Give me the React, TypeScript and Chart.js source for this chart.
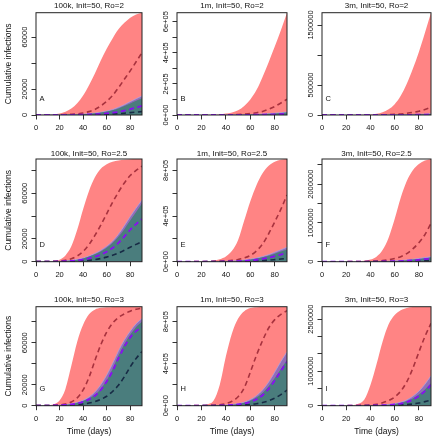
import React, { useEffect, useRef } from 'react';
import { Chart, registerables } from 'chart.js';

Chart.register(...registerables);

// ---------------- data ----------------
const DAYS = [0, 5, 10, 15, 20, 25, 30, 35, 40, 45, 50, 55, 60, 65, 70, 75, 80, 85, 90];
const X_TICKS = [0, 20, 40, 60, 80];

const TITLES = [
  '100k, Init=50, Ro=2', '1m, Init=50, Ro=2', '3m, Init=50, Ro=2',
  '100k, Init=50, Ro=2.5', '1m, Init=50, Ro=2.5', '3m, Init=50, Ro=2.5',
  '100k, Init=50, Ro=3', '1m, Init=50, Ro=3', '3m, Init=50, Ro=3',
];
const LETTERS = ['A', 'B', 'C', 'D', 'E', 'F', 'G', 'H', 'I'];

// Panel A
const A_RED_HI = [50, 100, 200, 500, 1200, 2500, 5000, 9000, 15000, 23000, 32000, 42000, 51000, 59000, 66000, 71000, 75000, 77500, 78800];
const A_RED_MED = [50, 60, 80, 120, 200, 320, 550, 900, 1500, 2600, 4300, 7000, 10500, 15000, 21000, 27500, 34000, 41000, 48000];
const A_BLUE_HI = [50, 60, 80, 110, 160, 230, 330, 480, 700, 1000, 1450, 2100, 3000, 4200, 5900, 7900, 10300, 12500, 14700];
const A_TEAL_HI = [50, 60, 75, 100, 140, 200, 290, 420, 610, 880, 1270, 1830, 2600, 3700, 5100, 6900, 8900, 11000, 12900];
const A_PURPLE_MED = [50, 55, 60, 70, 85, 110, 150, 210, 300, 430, 620, 880, 1250, 1750, 2400, 3300, 4400, 5700, 7000];
const A_NAVY_MED = [50, 52, 55, 60, 68, 80, 100, 130, 170, 230, 310, 420, 570, 770, 1030, 1370, 1800, 2200, 2600];

// Panel B
const B_RED_HI = [50, 80, 150, 300, 600, 1200, 2200, 4500, 9000, 16000, 30000, 58000, 100000, 160000, 245000, 340000, 440000, 545000, 658000];
const B_RED_MED = [50, 60, 80, 110, 160, 240, 380, 600, 1000, 1700, 3000, 5500, 9000, 15000, 23000, 37000, 55000, 77000, 101000];
const B_BLUE_HI = [50, 60, 80, 110, 160, 230, 330, 480, 700, 1000, 1450, 2150, 3100, 4400, 6300, 8800, 11800, 15000, 18500];
const B_TEAL_HI = [50, 58, 72, 98, 135, 195, 280, 405, 590, 850, 1230, 1800, 2600, 3700, 5300, 7400, 9900, 12700, 15700];
const B_PURPLE_MED = [50, 55, 60, 70, 85, 110, 150, 210, 300, 430, 620, 890, 1270, 1800, 2500, 3400, 4600, 6000, 7600];
const B_NAVY_MED = [50, 52, 55, 60, 68, 80, 100, 130, 170, 230, 310, 420, 570, 780, 1050, 1400, 1850, 2300, 2800];

// Panel C
const C_RED_HI = [50, 80, 150, 300, 600, 1200, 2300, 4500, 9000, 20000, 45000, 95000, 180000, 320000, 520000, 770000, 1050000, 1370000, 1705000];
const C_RED_MED = [50, 60, 80, 110, 160, 240, 380, 600, 1000, 1800, 3200, 5800, 10000, 17000, 28000, 43000, 63000, 92000, 128000];
const C_BLUE_HI = [50, 60, 80, 110, 160, 230, 330, 480, 700, 1000, 1460, 2170, 3120, 4450, 6400, 8900, 12000, 15300, 19000];
const C_TEAL_HI = [50, 58, 72, 98, 135, 195, 280, 405, 590, 850, 1240, 1810, 2620, 3750, 5350, 7500, 10000, 12900, 16000];
const C_PURPLE_MED = [50, 55, 60, 70, 85, 110, 150, 210, 300, 430, 620, 890, 1280, 1810, 2520, 3430, 4650, 6100, 7700];
const C_NAVY_MED = [50, 52, 55, 60, 68, 80, 100, 130, 170, 230, 310, 420, 575, 785, 1060, 1410, 1870, 2330, 2850];

// Panel D
const D_RED_HI = [50, 100, 250, 700, 1800, 5500, 13500, 28000, 46000, 62000, 74000, 81500, 85500, 87500, 88700, 89300, 89700, 89900, 90000];
const D_RED_MED = [50, 80, 150, 300, 650, 1300, 2600, 5000, 9000, 15000, 23000, 32000, 42000, 52000, 61000, 69000, 75500, 80000, 83800];
const D_BLUE_HI = [50, 70, 120, 220, 400, 700, 1200, 2000, 3200, 5000, 7200, 10000, 13500, 18000, 24000, 31500, 39500, 47000, 54000];
const D_TEAL_HI = [50, 65, 110, 200, 360, 630, 1080, 1800, 2900, 4500, 6500, 9000, 12200, 16300, 21800, 28500, 36000, 43500, 51000];
const D_PURPLE_MED = [50, 60, 90, 150, 260, 440, 740, 1200, 1900, 2900, 4300, 6200, 8700, 12000, 16500, 22000, 28000, 33000, 37400];
const D_NAVY_MED = [50, 55, 70, 100, 150, 230, 360, 560, 850, 1250, 1900, 2800, 4000, 5600, 7600, 10000, 12700, 15200, 17500];

// Panel E
const E_RED_HI = [50, 100, 250, 600, 1500, 3800, 9500, 22000, 45000, 95000, 190000, 360000, 530000, 670000, 775000, 840000, 875000, 893000, 900000];
const E_RED_MED = [50, 80, 150, 300, 650, 1300, 2600, 4500, 7500, 12000, 20000, 33000, 55000, 95000, 155000, 245000, 350000, 460000, 585000];
const E_BLUE_HI = [50, 70, 120, 220, 400, 700, 1250, 2200, 3700, 6000, 9500, 14500, 22000, 32000, 45000, 62000, 82000, 104000, 126000];
const E_TEAL_HI = [50, 65, 105, 190, 340, 600, 1050, 1850, 3100, 5000, 8000, 12300, 18500, 27000, 38500, 53000, 70000, 89000, 108000];
const E_PURPLE_MED = [50, 60, 90, 150, 260, 440, 750, 1250, 2000, 3200, 5000, 7600, 11500, 17000, 25000, 35000, 48000, 63000, 79000];
const E_NAVY_MED = [50, 55, 70, 100, 150, 230, 360, 560, 870, 1300, 2000, 3000, 4400, 6400, 9200, 13000, 18000, 23500, 29000];

// Panel F
const F_RED_HI = [50, 100, 250, 600, 1500, 3800, 9500, 24000, 55000, 130000, 300000, 620000, 1100000, 1650000, 2080000, 2360000, 2520000, 2610000, 2650000];
const F_RED_MED = [50, 80, 150, 300, 650, 1300, 2600, 5000, 9000, 16000, 28000, 48000, 80000, 130000, 210000, 330000, 490000, 700000, 990000];
const F_BLUE_HI = [50, 70, 120, 220, 400, 700, 1250, 2200, 3700, 6000, 9600, 14700, 22300, 32500, 46000, 63500, 84000, 107000, 130000];
const F_TEAL_HI = [50, 65, 105, 190, 340, 600, 1050, 1850, 3100, 5000, 8100, 12400, 18700, 27500, 39000, 54000, 71500, 91000, 111000];
const F_PURPLE_MED = [50, 60, 90, 150, 260, 440, 750, 1250, 2000, 3200, 5000, 7700, 11600, 17300, 25500, 36000, 49000, 64500, 81000];
const F_NAVY_MED = [50, 55, 70, 100, 150, 230, 360, 560, 870, 1300, 2000, 3000, 4450, 6500, 9300, 13200, 18300, 24000, 29500];

// Panel G
const G_RED_HI = [50, 120, 400, 1300, 5000, 16000, 38000, 61000, 77000, 87000, 91500, 93200, 93800, 94100, 94200, 94300, 94300, 94300, 94300];
const G_RED_MED = [50, 80, 160, 350, 750, 1600, 3500, 7500, 15000, 27000, 43000, 58000, 70000, 78500, 84000, 87500, 90000, 91800, 93000];
const G_BLUE_HI = [50, 80, 150, 300, 550, 1000, 1800, 3100, 5200, 8300, 13000, 20000, 29000, 40000, 52000, 62500, 71000, 78000, 83000];
const G_TEAL_HI = [50, 75, 140, 270, 490, 880, 1580, 2700, 4500, 7000, 10500, 16000, 24000, 35000, 47500, 58500, 67500, 75000, 80000];
const G_PURPLE_MED = [50, 70, 120, 220, 400, 700, 1250, 2200, 3700, 6000, 9500, 15000, 23000, 33000, 45000, 56000, 65000, 71000, 75000];
const G_NAVY_MED = [50, 60, 90, 140, 230, 380, 620, 1000, 1600, 2500, 3900, 6000, 9000, 13500, 19500, 27500, 37000, 45000, 51500];

// Panel H
const H_RED_HI = [50, 120, 400, 1300, 4500, 15000, 50000, 200000, 470000, 690000, 830000, 900000, 930000, 938000, 941000, 942500, 943000, 943000, 943000];
const H_RED_MED = [50, 80, 160, 350, 800, 1800, 4000, 9000, 20000, 42000, 85000, 170000, 320000, 480000, 620000, 740000, 820000, 870000, 905000];
const H_BLUE_HI = [50, 80, 150, 300, 560, 1000, 1900, 3500, 6500, 11500, 20000, 34000, 58000, 95000, 150000, 225000, 320000, 420000, 514000];
const H_TEAL_HI = [50, 75, 140, 270, 500, 900, 1700, 3100, 5700, 10000, 17000, 28500, 48000, 78000, 122000, 185000, 265000, 350000, 435000];
const H_PURPLE_MED = [50, 70, 120, 220, 400, 720, 1300, 2300, 4100, 7200, 12500, 21000, 36000, 60000, 100000, 160000, 240000, 330000, 419000];
const H_NAVY_MED = [50, 60, 90, 140, 230, 380, 620, 1000, 1700, 2800, 4600, 7500, 12000, 19000, 30000, 47000, 72000, 105000, 149000];

// Panel I
const I_RED_HI = [50, 120, 400, 1300, 4500, 16000, 55000, 180000, 600000, 1200000, 1850000, 2350000, 2620000, 2760000, 2825000, 2850000, 2860000, 2860000, 2860000];
const I_RED_MED = [50, 80, 160, 350, 800, 1800, 4000, 9000, 20000, 42000, 85000, 150000, 250000, 420000, 690000, 1080000, 1550000, 2000000, 2380000];
const I_BLUE_HI = [50, 80, 150, 300, 560, 1000, 1900, 3500, 6500, 11500, 20000, 35000, 60000, 100000, 165000, 270000, 420000, 620000, 867000];
const I_TEAL_HI = [50, 75, 140, 270, 500, 900, 1700, 3100, 5700, 10000, 17000, 29000, 49000, 81000, 132000, 210000, 320000, 470000, 645000];
const I_PURPLE_MED = [50, 70, 120, 220, 400, 720, 1300, 2300, 4100, 7200, 12500, 21000, 36000, 62000, 105000, 175000, 280000, 420000, 598000];
const I_NAVY_MED = [50, 60, 90, 140, 230, 380, 620, 1000, 1700, 2800, 4600, 7500, 12000, 19500, 31000, 50000, 78000, 118000, 164000];

// y-axis ticks and their printed labels ('' = tick mark without label)
const A_Y_TICKS = [0, 20000, 40000, 60000];
const A_Y_LABELS = ['0', '20000', '', '60000'];
const B_Y_TICKS = [0, 100000, 200000, 300000, 400000, 500000, 600000];
const B_Y_LABELS = ['0e+00', '', '2e+05', '', '4e+05', '', '6e+05'];
const C_Y_TICKS = [0, 500000, 1000000, 1500000];
const C_Y_LABELS = ['0', '500000', '', '1500000'];
const D_Y_TICKS = [0, 20000, 40000, 60000, 80000];
const D_Y_LABELS = ['0', '20000', '', '60000', ''];
const E_Y_TICKS = [0, 200000, 400000, 600000, 800000];
const E_Y_LABELS = ['0e+00', '', '4e+05', '', '8e+05'];
const F_Y_TICKS = [0, 500000, 1000000, 1500000, 2000000, 2500000];
const F_Y_LABELS = ['0', '', '1000000', '', '2000000', ''];
const G_Y_TICKS = [0, 20000, 40000, 60000, 80000];
const G_Y_LABELS = ['0', '20000', '', '60000', ''];
const H_Y_TICKS = [0, 200000, 400000, 600000, 800000];
const H_Y_LABELS = ['0e+00', '', '4e+05', '', '8e+05'];
const I_Y_TICKS = [0, 500000, 1000000, 1500000, 2000000, 2500000];
const I_Y_LABELS = ['0', '', '1000000', '', '', '2500000'];

const RED_HI = [A_RED_HI, B_RED_HI, C_RED_HI, D_RED_HI, E_RED_HI, F_RED_HI, G_RED_HI, H_RED_HI, I_RED_HI];
const RED_MED = [A_RED_MED, B_RED_MED, C_RED_MED, D_RED_MED, E_RED_MED, F_RED_MED, G_RED_MED, H_RED_MED, I_RED_MED];
const BLUE_HI = [A_BLUE_HI, B_BLUE_HI, C_BLUE_HI, D_BLUE_HI, E_BLUE_HI, F_BLUE_HI, G_BLUE_HI, H_BLUE_HI, I_BLUE_HI];
const TEAL_HI = [A_TEAL_HI, B_TEAL_HI, C_TEAL_HI, D_TEAL_HI, E_TEAL_HI, F_TEAL_HI, G_TEAL_HI, H_TEAL_HI, I_TEAL_HI];
const PURPLE_MED = [A_PURPLE_MED, B_PURPLE_MED, C_PURPLE_MED, D_PURPLE_MED, E_PURPLE_MED, F_PURPLE_MED, G_PURPLE_MED, H_PURPLE_MED, I_PURPLE_MED];
const NAVY_MED = [A_NAVY_MED, B_NAVY_MED, C_NAVY_MED, D_NAVY_MED, E_NAVY_MED, F_NAVY_MED, G_NAVY_MED, H_NAVY_MED, I_NAVY_MED];
const Y_TICKS = [A_Y_TICKS, B_Y_TICKS, C_Y_TICKS, D_Y_TICKS, E_Y_TICKS, F_Y_TICKS, G_Y_TICKS, H_Y_TICKS, I_Y_TICKS];
const Y_LABELS = [A_Y_LABELS, B_Y_LABELS, C_Y_LABELS, D_Y_LABELS, E_Y_LABELS, F_Y_LABELS, G_Y_LABELS, H_Y_LABELS, I_Y_LABELS];

// ---------------- layout / style ----------------
const FAMILY = '"Liberation Sans", Arial, Helvetica, sans-serif';
const TICK_SIZE = 7.5;
const TITLE_SIZE = 8;
const AXIS_TITLE_SIZE = 8.5;
const TICK_LEN = 4.5;

const CANVAS_W = 145;
const COL_LEFT = [0, 145, 290];
const ROW_TOP = [0, 146, 292];
const ROW_H = [146, 146, 148];
const PLOT_L = [36, 32, 32];
const PLOT_R = [142, 142, 141];
const PLOT_T = [12.7, 13, 14.7];
const PLOT_B = [115, 115.7, 113.7];
const TITLE_C = [6, 7.3, 8];
const X_AXIS_H = [20, 20, 31.4];
const Y_AXIS_W = [36, 30, 30];

const RED_FILL = 'rgb(255,132,132)';
const BLUE_FILL = 'rgba(88,96,212,0.66)';
const BLUE_EDGE = 'rgba(165,170,232,0.9)';
const TEAL_FILL = 'rgb(74,125,125)';
const RED_LINE = '#A8323E';
const PURPLE_LINE = '#8A0BF5';
const NAVY_LINE = '#172B45';
const TEXT = '#111';
const DASH = [5, 3.5];

function widest(labels: string[], size: number): number {
  const ctx = document.createElement('canvas').getContext('2d');
  if (!ctx) return 0;
  ctx.font = `normal ${size}px ${FAMILY}`;
  let w = 0;
  for (const l of labels) w = Math.max(w, ctx.measureText(l).width);
  return w;
}

const boxPlugin = {
  id: 'rbox',
  afterDatasetsDraw(chart: any) {
    const { ctx, chartArea: a } = chart;
    ctx.save();
    ctx.strokeStyle = '#222';
    ctx.lineWidth = 1;
    ctx.setLineDash([]);
    ctx.strokeRect(a.left, a.top, a.right - a.left, a.bottom - a.top);
    ctx.restore();
  },
};

const letterPlugin = {
  id: 'panelLetter',
  afterDatasetsDraw(chart: any, _args: any, opts: any) {
    const { ctx, chartArea: a } = chart;
    ctx.save();
    ctx.font = `normal ${TICK_SIZE}px ${FAMILY}`;
    ctx.fillStyle = TEXT;
    ctx.textAlign = 'left';
    ctx.textBaseline = 'middle';
    ctx.fillText(opts.text, a.left + 3.5, a.bottom - 16.5);
    ctx.restore();
  },
};

function pts(arr: number[]) {
  return DAYS.map((d, i) => ({ x: d, y: arr[i] }));
}

function Panel({ idx }: { idx: number }) {
  const ref = useRef<HTMLCanvasElement>(null);
  const row = Math.floor(idx / 3);
  const col = idx % 3;
  const H = ROW_H[row];

  useEffect(() => {
    if (!ref.current) return;
    const yMax = Math.max(...RED_HI[idx]);
    const yW = Y_AXIS_W[col];
    const xH = X_AXIS_H[row];
    const wid = widest(Y_LABELS[idx], TICK_SIZE);
    const titleTop = TITLE_C[row] - (TITLE_SIZE * 1.2) / 2;
    const titleBottom = PLOT_T[row] - titleTop - TITLE_SIZE * 1.2;

    const line = (data: number[], color: string, width: number, order: number) => ({
      data: pts(data),
      borderColor: color,
      borderWidth: width,
      borderDash: DASH,
      fill: false,
      pointRadius: 0,
      cubicInterpolationMode: 'monotone',
      order,
    });
    const band = (data: number[], color: string, order: number, edge?: string) => ({
      data: pts(data),
      backgroundColor: color,
      borderColor: edge || 'rgba(0,0,0,0)',
      borderWidth: edge ? 0.8 : 0,
      fill: 'origin',
      pointRadius: 0,
      cubicInterpolationMode: 'monotone',
      order,
    });

    const chart = new Chart(ref.current, {
      type: 'line',
      data: {
        datasets: [
          line(PURPLE_MED[idx], PURPLE_LINE, 1.8, 0),
          line(NAVY_MED[idx], NAVY_LINE, 1.6, 1),
          line(RED_MED[idx], RED_LINE, 1.6, 2),
          band(TEAL_HI[idx], TEAL_FILL, 3),
          band(BLUE_HI[idx], BLUE_FILL, 4, BLUE_EDGE),
          band(RED_HI[idx], RED_FILL, 5),
        ] as any,
      },
      options: {
        responsive: false,
        maintainAspectRatio: false,
        animation: false,
        events: [],
        devicePixelRatio: 1,
        layout: {
          padding: {
            left: PLOT_L[col] - yW,
            right: CANVAS_W - PLOT_R[col],
            top: 0,
            bottom: H - PLOT_B[row] - xH,
          },
        },
        plugins: {
          legend: { display: false },
          tooltip: { enabled: false },
          title: {
            display: true,
            text: TITLES[idx],
            fullSize: false,
            color: TEXT,
            font: { family: FAMILY, size: TITLE_SIZE, weight: 'normal', lineHeight: 1.2 },
            padding: { top: titleTop, bottom: titleBottom },
          },
          panelLetter: { text: LETTERS[idx] },
        } as any,
        scales: {
          x: {
            type: 'linear',
            min: 0,
            max: 90,
            afterBuildTicks: (s: any) => {
              s.ticks = X_TICKS.map((v) => ({ value: v }));
            },
            afterFit: (s: any) => {
              s.height = xH;
              s.paddingLeft = 0;
              s.paddingRight = 0;
              s.paddingTop = 0;
              s.paddingBottom = 0;
            },
            ticks: {
              autoSkip: false,
              minRotation: 0,
              maxRotation: 0,
              padding: 4,
              color: TEXT,
              font: { family: FAMILY, size: TICK_SIZE },
              callback: (v: any) => String(v),
            },
            grid: { display: true, drawOnChartArea: false, drawTicks: true, tickLength: TICK_LEN, color: '#333', lineWidth: 1 },
            border: { display: false },
            title: {
              display: row === 2,
              text: 'Time (days)',
              color: TEXT,
              font: { family: FAMILY, size: AXIS_TITLE_SIZE, lineHeight: 1.2 },
              padding: { top: 0, bottom: 0 },
            },
          },
          y: {
            type: 'linear',
            min: 0,
            max: yMax,
            afterBuildTicks: (s: any) => {
              s.ticks = Y_TICKS[idx].map((v) => ({ value: v }));
            },
            afterFit: (s: any) => {
              s.width = yW;
              s.paddingLeft = 0;
              s.paddingRight = 0;
              s.paddingTop = 0;
              s.paddingBottom = 0;
            },
            ticks: {
              autoSkip: false,
              minRotation: 90,
              maxRotation: 90,
              crossAlign: 'center',
              padding: 11.5 - TICK_LEN - wid / 2,
              color: TEXT,
              font: { family: FAMILY, size: TICK_SIZE },
              callback: (_v: any, i: number) => Y_LABELS[idx][i],
            },
            grid: { display: true, drawOnChartArea: false, drawTicks: true, tickLength: TICK_LEN, color: '#333', lineWidth: 1 },
            border: { display: false },
            title: {
              display: col === 0,
              text: 'Cumulative infections',
              color: TEXT,
              font: { family: FAMILY, size: AXIS_TITLE_SIZE, lineHeight: 1.2 },
              padding: { top: 3.2, bottom: 0 },
            },
          },
        } as any,
      },
      plugins: [boxPlugin, letterPlugin] as any,
    });
    return () => chart.destroy();
  }, [idx]);

  return (
    <canvas
      ref={ref}
      width={CANVAS_W}
      height={H}
      style={{ position: 'absolute', left: COL_LEFT[col], top: ROW_TOP[row], width: CANVAS_W, height: H }}
    />
  );
}

export default function App() {
  return (
    <div style={{ position: 'absolute', left: 0, top: 0, width: 435, height: 440, background: '#fff' }}>
      {TITLES.map((_, i) => (
        <Panel key={i} idx={i} />
      ))}
    </div>
  );
}
